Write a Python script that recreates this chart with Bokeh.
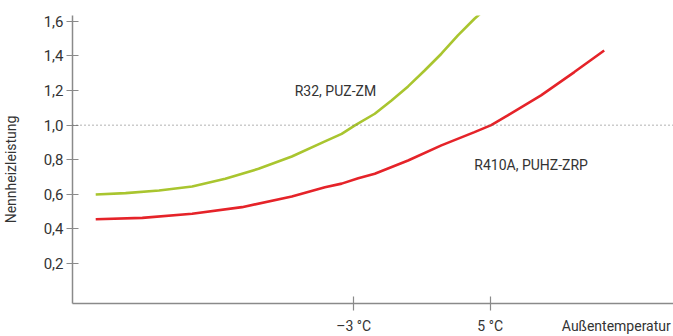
from bokeh.plotting import figure
from bokeh.models import FixedTicker, Span, Label, Range1d, LinearAxis, CustomLabelingPolicy
from bokeh.embed import file_html
from bokeh.resources import INLINE

# ---- data ----
r32_x = [-18.11, -16.36, -14.40, -12.46, -10.52, -8.57, -6.62, -4.68, -3.70, -2.90,
         -1.76, -0.78, 0.19, 1.16, 2.14, 3.11, 4.08, 4.96]
r32_y = [0.599, 0.607, 0.622, 0.645, 0.690, 0.748, 0.819, 0.906, 0.950, 1.000,
         1.066, 1.143, 1.224, 1.316, 1.413, 1.519, 1.615, 1.692]

r410_x = [-18.11, -15.38, -12.46, -9.54, -6.62, -4.68, -3.70, -2.73, -1.76, 0.19,
          2.14, 4.08, 5.06, 6.03, 7.98, 9.93, 11.68]
r410_y = [0.456, 0.464, 0.488, 0.526, 0.588, 0.641, 0.662, 0.693, 0.719, 0.796,
          0.883, 0.960, 1.000, 1.056, 1.172, 1.307, 1.432]

y_ticks = [0.2, 0.4, 0.6, 0.8, 1.0, 1.2, 1.4, 1.6]
y_tick_labels = ["0,2", "0,4", "0,6", "0,8", "1,0", "1,2", "1,4", "1,6"]
x_ticks = [-3, 5]
x_tick_labels = ["–3 °C", "5 °C"]

series_names = ["R32, PUZ-ZM", "R410A, PUHZ-ZRP"]
x_title = "Außentemperatur"
y_title = "Nennheizleistung"

FONT = "Roboto"
TXT = "#333333"
AX = "#8a8a8a"
GREEN = "#a9c52f"
RED = "#e52329"

# title positions (along their axes)
X_TITLE_AT = 12.39
Y_TITLE_AT = 0.744

p = figure(width=673, height=336, output_backend="svg", toolbar_location=None,
           x_range=Range1d(-19.47, 15.74), y_range=Range1d(-0.031, 1.634),
           min_border_left=70, min_border_right=0, min_border_top=15, min_border_bottom=33)
p.outline_line_color = None
p.xgrid.visible = False
p.ygrid.visible = False
p.background_fill_color = "white"

for ax in (p.xaxis[0], p.yaxis[0]):
    ax.axis_line_color = AX
    ax.axis_line_width = 1.5
    ax.major_tick_line_color = AX
    ax.major_tick_line_width = 1.2
    ax.minor_tick_line_color = None
    ax.major_label_text_font = FONT
    ax.major_label_text_font_size = "15px"
    ax.major_label_text_color = TXT

# y axis (line, ticks, tick labels)
p.yaxis.ticker = FixedTicker(ticks=y_ticks)
p.yaxis.major_label_overrides = {t: l for t, l in zip(y_ticks, y_tick_labels)}
p.yaxis.major_tick_in = 6
p.yaxis.major_tick_out = 6
p.yaxis.major_label_standoff = 3

# x axis (line and tick marks only; labels carried by the label axis below)
p.xaxis.ticker = FixedTicker(ticks=x_ticks)
p.xaxis.major_tick_in = 7
p.xaxis.major_tick_out = 7
p.xaxis.major_label_standoff = 0
p.xaxis.major_label_text_font_size = "1px"
p.xaxis.major_label_policy = CustomLabelingPolicy(code="return new Set()")

# x tick labels + axis title on one row
x_lab_ticks = x_ticks + [X_TITLE_AT]
x_lab_axis = LinearAxis(ticker=FixedTicker(ticks=x_lab_ticks),
                        major_label_overrides={t: l for t, l in zip(x_lab_ticks, x_tick_labels + [x_title])},
                        axis_line_color=None, major_tick_line_color=None,
                        minor_tick_line_color=None, major_tick_in=0, major_tick_out=0,
                        major_label_standoff=3, major_label_text_font=FONT,
                        major_label_text_font_size="14px", major_label_text_color=TXT)
p.add_layout(x_lab_axis, "below")

# y axis title
y_lab_axis = LinearAxis(ticker=FixedTicker(ticks=[Y_TITLE_AT]),
                        major_label_overrides={Y_TITLE_AT: y_title},
                        major_label_orientation="vertical",
                        axis_line_color=None, major_tick_line_color=None,
                        minor_tick_line_color=None, major_tick_in=0, major_tick_out=0,
                        major_label_standoff=21, major_label_text_font=FONT,
                        major_label_text_font_size="14px", major_label_text_color=TXT)
p.add_layout(y_lab_axis, "left")

p.add_layout(Span(location=1.0, dimension="width", line_color="#666666",
                  line_dash="1 3", line_width=1))

p.line(r32_x, r32_y, line_color=GREEN, line_width=2.6)
p.line(r410_x, r410_y, line_color=RED, line_width=2.6)

p.add_layout(Label(x=-6.45, y=1.20, text=series_names[0], text_font=FONT,
                   text_font_size="14px", text_color=TXT, text_baseline="middle"))
p.add_layout(Label(x=4.07, y=0.767, text=series_names[1], text_font=FONT,
                   text_font_size="14px", text_color=TXT, text_baseline="middle"))

open("out.html", "w").write(file_html(p, INLINE))
